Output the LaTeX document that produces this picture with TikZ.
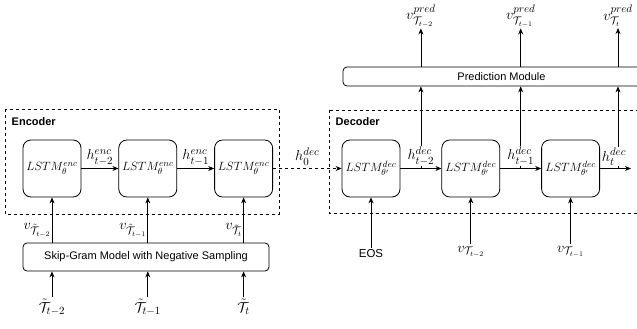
\documentclass[tikz,border=0pt]{standalone}
\usepackage{amssymb}
\usepackage{amsmath}
\usepackage{fontspec}
\setsansfont{Liberation Sans}
\usetikzlibrary{calc, chains, positioning, arrows.meta}

\begin{document}
\begin{tikzpicture}[
   x=1pt, y=-1pt,
   line width=0.8pt,
   -{Stealth[length=6pt, width=5pt]},
   lstm/.style = {draw, rounded corners=8pt, minimum width=58pt, minimum height=57pt,
                  inner sep=0pt, font=\fontsize{12.5}{15}\selectfont},
   module/.style = {draw, rounded corners=4pt, inner sep=0pt,
                    font=\sffamily\fontsize{11}{13}\selectfont},
   frame/.style = {draw, dash pattern=on 3pt off 3pt, line width=0.7pt},
   title/.style = {anchor=west, font=\sffamily\bfseries\fontsize{11}{13}\selectfont},
   lbl/.style = {inner sep=1pt, font=\fontsize{15}{17}\selectfont},
   sans/.style = {inner sep=1pt, font=\sffamily\fontsize{11.5}{13}\selectfont}]
   \clip (0,0) rectangle (637,329);

   % encoder
   \draw[frame] (5,109) rectangle (279,214);
   \node[title] (enctitle) at (8,122) {Encoder};
   \begin{scope}[start chain = enc going right, node distance = 37pt]
   \node[lstm, on chain] (enc1) at (52,168.5) {$LSTM^{enc}_{\theta}$};
   \node[lstm, on chain] (enc2) {$LSTM^{enc}_{\theta}$};
   \node[lstm, on chain] (enc3) {$LSTM^{enc}_{\theta}$};
   \end{scope}
   \node[module, minimum width=246pt, minimum height=28pt] (sgns) at (146,257)
      {Skip-Gram Model with Negative Sampling};

   \draw (enc1) -- node[lbl, above=2pt] {$h^{enc}_{t-2}$} (enc2);
   \draw (enc2) -- node[lbl, above=2pt] {$h^{enc}_{t-1}$} (enc3);

   \draw (sgns.north -| enc1) -- node[lbl, pos=0.28, left] {$v_{\tilde{\mathcal{T}}_{t-2}}$} (enc1);
   \draw (sgns.north -| enc2) -- node[lbl, pos=0.28, left] {$v_{\tilde{\mathcal{T}}_{t-1}}$} (enc2);
   \draw (sgns.north -| enc3) -- node[lbl, pos=0.28, left] {$v_{\tilde{\mathcal{T}}_{t}}$} (enc3);

   \coordinate (in1) at (sgns.south -| enc1);
   \coordinate (in2) at (sgns.south -| enc2);
   \coordinate (in3) at (sgns.south -| enc3);
   \node[lbl, below=26pt of in1] (tt1) {$\tilde{\mathcal{T}}_{t-2}$};
   \node[lbl, below=26pt of in2] (tt2) {$\tilde{\mathcal{T}}_{t-1}$};
   \node[lbl, below=26pt of in3] (tt3) {$\tilde{\mathcal{T}}_{t}$};
   \draw (tt1) -- (in1);
   \draw (tt2) -- (in2);
   \draw (tt3) -- (in3);

   % decoder
   \draw[frame] (329,110) rectangle (645,213);
   \node[title] (dectitle) at (332,122) {Decoder};
   \begin{scope}[start chain = dec going right, node distance = 41pt]
   \node[lstm, on chain] (dec1) at (371,168.5) {$LSTM^{dec}_{\theta'}$};
   \node[lstm, on chain] (dec2) {$LSTM^{dec}_{\theta'}$};
   \node[lstm, on chain] (dec3) {$LSTM^{dec}_{\theta'}$};
   \end{scope}
   \node[module, minimum width=317pt, minimum height=19pt] (pred) at (501.5,76.5)
      {Prediction Module};

   \draw[dash pattern=on 3pt off 3pt] (enc3) -- node[lbl, above=2pt] {$h^{dec}_{0}$} (dec1);

   \coordinate (o1) at ($(dec1.east)!0.5!(dec2.west)$);
   \coordinate (o2) at ($(dec2.east)!0.5!(dec3.west)$);
   \coordinate (o3) at (618,168.5);
   \coordinate (dend) at (631,168.5);
   \draw (o1) -- (o1 |- pred.south);
   \draw (o2) -- (o2 |- pred.south);
   \draw (o3) -- (o3 |- pred.south);
   \draw (dec1) -- node[lbl, above=2pt, fill=white] {$h^{dec}_{t-2}$} (dec2);
   \draw (dec2) -- node[lbl, above=2pt, fill=white] {$h^{dec}_{t-1}$} (dec3);
   \draw (dec3) -- (dend);
   \node[lbl, above=2pt, fill=white] (hdt) at ([xshift=-4pt]o3) {$h^{dec}_{t}$};

   \node[lbl] (vp1) at (o1 |- 0,16) {$v^{pred}_{\mathcal{T}_{t-2}}$};
   \node[lbl] (vp2) at (o2 |- 0,16) {$v^{pred}_{\mathcal{T}_{t-1}}$};
   \node[lbl] (vp3) at (o3 |- 0,16) {$v^{pred}_{\mathcal{T}_{t}}$};
   \draw (o1 |- pred.north) -- (vp1);
   \draw (o2 |- pred.north) -- (vp2);
   \draw (o3 |- pred.north) -- (vp3);

   \node[sans, below=51pt of dec1] (eos) {EOS};
   \node[lbl, below=47pt of dec2] (vin1) {$v_{\mathcal{T}_{t-2}}$};
   \node[lbl, below=47pt of dec3] (vin2) {$v_{\mathcal{T}_{t-1}}$};
   \draw (eos) -- (dec1);
   \draw (vin1) -- (dec2);
   \draw (vin2) -- (dec3);
\end{tikzpicture}
\end{document}
